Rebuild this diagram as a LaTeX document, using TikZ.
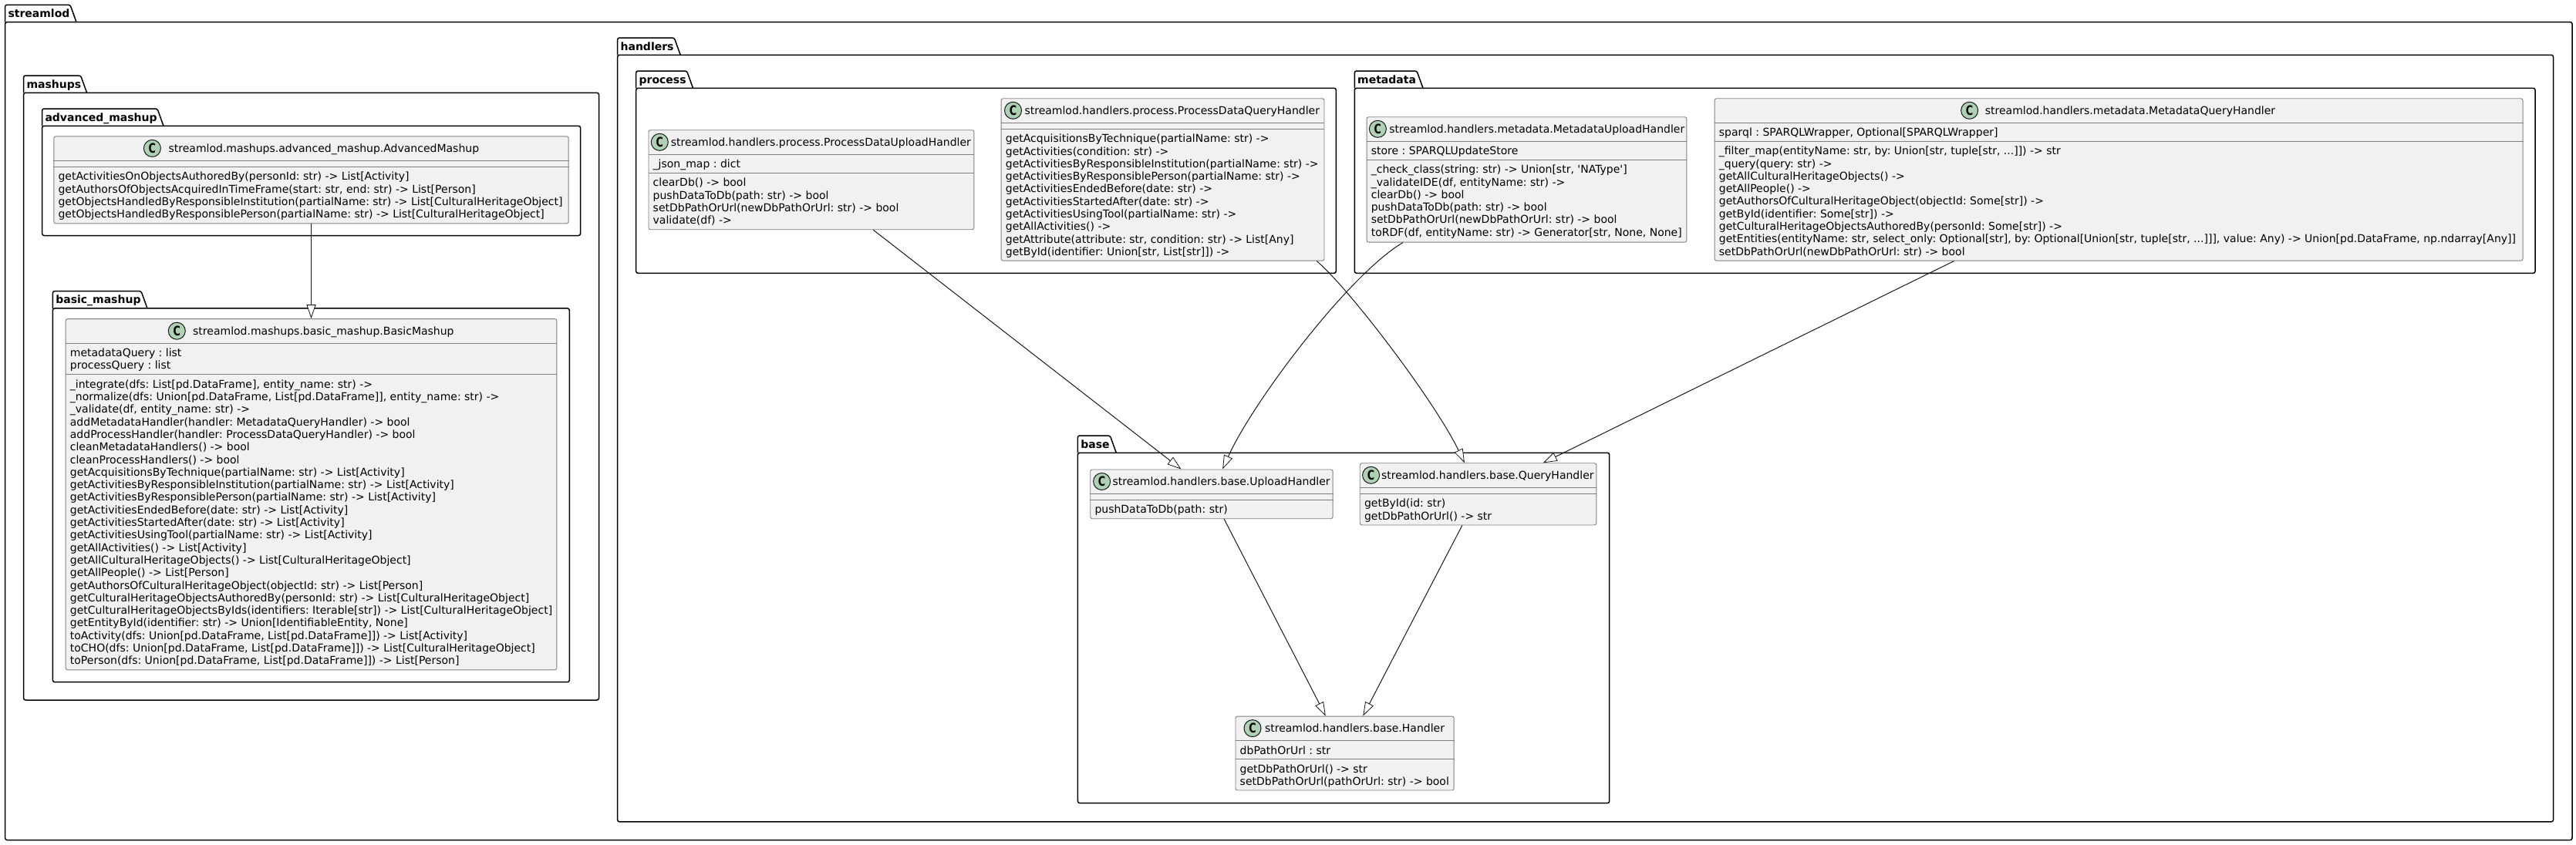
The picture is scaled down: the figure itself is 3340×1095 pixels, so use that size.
\documentclass[tikz,border=0pt]{standalone}
\usepackage{fontspec}
\setmainfont{DejaVu Sans}[Ligatures=TeXOff]
\usetikzlibrary{positioning}
\usetikzlibrary{arrows.meta}

\definecolor{umlline}{HTML}{181818}
\definecolor{boxline}{HTML}{808080}
\definecolor{classfill}{HTML}{F1F1F1}
\definecolor{markfill}{HTML}{ADD1B2}

\tikzset{
	pkgline/.style={draw=black, line width=1.5pt, line join=round},
	pkgtitle/.style={anchor=base west, inner sep=0pt, font=\fontsize{14pt}{16.3pt}\selectfont\bfseries},
	classbox/.style={anchor=north west, draw=boxline, fill=classfill, line width=0.9pt, rounded corners=2.5pt, inner sep=0pt},
	classsep/.style={draw=boxline, line width=0.9pt},
	classmark/.style={circle, draw=umlline, fill=markfill, line width=1pt, minimum size=22pt, inner sep=0pt, font=\fontsize{17pt}{17pt}\selectfont\bfseries},
	classtitle/.style={anchor=base west, inner sep=0pt, font=\fontsize{14pt}{16.3pt}\selectfont},
	classtext/.style={anchor=north west, inner sep=0pt, align=left, font=\fontsize{14pt}{16.3pt}\selectfont},
	extends/.style={draw=umlline, line width=1pt, -{Triangle[fill=white, length=18pt, width=12pt, line width=0.8pt]}}
}

\newcommand{\markletter}{\scalebox{0.75}[1]{C}}

% name, label, left, tab top, tab right, right, bottom
\newcommand{\umlpackage}[7]{
	\draw[pkgline, rounded corners=2.5pt] (#3,{#4+22.3}) -- (#3,#4) -- (#5,#4) -- ({#5+8},{#4+22.3});
	\draw[pkgline, rounded corners=2.5pt] (#3,{#4+22.3}) -- (#6,{#4+22.3}) -- (#6,#7) -- (#3,#7) -- cycle;
	\node[pkgtitle] (#1) at ({#3+3.7},{#4+16}) {#2};
}

\begin{document}
\frenchspacing
\begin{tikzpicture}[x=1pt, y=-1pt]
	\useasboundingbox (0,0) rectangle (3340,1095);

	\umlpackage{streamlodlabel}{streamlod}{6.6}{6.3}{91}{3335}{1089.5}
	\umlpackage{mashupslabel}{mashups}{30.6}{98}{104.6}{776.5}{908}
	\umlpackage{advancedlabel}{advanced\_mashup}{54.6}{141}{204}{752.6}{305.5}
	\umlpackage{basiclabel}{basic\_mashup}{68.4}{377.6}{183}{738.3}{884.7}
	\umlpackage{handlerslabel}{handlers}{800.7}{49}{874.2}{3310.6}{1065.8}
	\umlpackage{processlabel}{process}{824.7}{92}{890.5}{1732.3}{354.3}
	\umlpackage{metadatalabel}{metadata}{1756.3}{92}{1837}{3287}{354.3}
	\umlpackage{baselabel}{base}{1397.4}{565}{1439.3}{2086.7}{1041.6}

	% mashups
	\node[classbox, minimum width=667.3pt, minimum height=113pt] (advanced) at (69.4,176.4) {};
	\node[classmark] (advancedmark) at (197.4,192.4) {\markletter};
	\node[classtitle] (advancedtitle) at (218.4,197.6) {streamlod.mashups.advanced\_mashup.AdvancedMashup};
	\draw[classsep] ([yshift=-32pt]advanced.north west) -- ([yshift=-32pt]advanced.north east);
	\draw[classsep] ([yshift=-40pt]advanced.north west) -- ([yshift=-40pt]advanced.north east);
	\node[classtext] (advancedmethods) at ([xshift=6pt, yshift=-45.8pt]advanced.north west) {\strut getActivitiesOnObjectsAuthoredBy(personId: str) -> List[Activity]\\
		getAuthorsOfObjectsAcquiredInTimeFrame(start: str, end: str) -> List[Person]\\
		getObjectsHandledByResponsibleInstitution(partialName: str) -> List[CulturalHeritageObject]\\
		getObjectsHandledByResponsiblePerson(partialName: str) -> List[CulturalHeritageObject]};

	\node[classbox, minimum width=636.7pt, minimum height=455.2pt] (basic) at (84.7,413.2) {};
	\node[classmark] (basicmark) at (229.3,429.2) {\markletter};
	\node[classtitle] (basictitle) at (250,434.4) {streamlod.mashups.basic\_mashup.BasicMashup};
	\draw[classsep] ([yshift=-32pt]basic.north west) -- ([yshift=-32pt]basic.north east);
	\draw[classsep] ([yshift=-72.6pt]basic.north west) -- ([yshift=-72.6pt]basic.north east);
	\node[classtext] (basicfields) at ([xshift=6pt, yshift=-37.8pt]basic.north west) {\strut metadataQuery : list\\
		processQuery : list};
	\node[classtext] (basicmethods) at ([xshift=6pt, yshift=-78.4pt]basic.north west) {\strut \_integrate(dfs: List[pd.DataFrame], entity\_name: str) ->\\
		\_normalize(dfs: Union[pd.DataFrame, List[pd.DataFrame]], entity\_name: str) ->\\
		\_validate(df, entity\_name: str) ->\\
		addMetadataHandler(handler: MetadataQueryHandler) -> bool\\
		addProcessHandler(handler: ProcessDataQueryHandler) -> bool\\
		cleanMetadataHandlers() -> bool\\
		cleanProcessHandlers() -> bool\\
		getAcquisitionsByTechnique(partialName: str) -> List[Activity]\\
		getActivitiesByResponsibleInstitution(partialName: str) -> List[Activity]\\
		getActivitiesByResponsiblePerson(partialName: str) -> List[Activity]\\
		getActivitiesEndedBefore(date: str) -> List[Activity]\\
		getActivitiesStartedAfter(date: str) -> List[Activity]\\
		getActivitiesUsingTool(partialName: str) -> List[Activity]\\
		getAllActivities() -> List[Activity]\\
		getAllCulturalHeritageObjects() -> List[CulturalHeritageObject]\\
		getAllPeople() -> List[Person]\\
		getAuthorsOfCulturalHeritageObject(objectId: str) -> List[Person]\\
		getCulturalHeritageObjectsAuthoredBy(personId: str) -> List[CulturalHeritageObject]\\
		getCulturalHeritageObjectsByIds(identifiers: Iterable[str]) -> List[CulturalHeritageObject]\\
		getEntityById(identifier: str) -> Union[IdentifiableEntity, None]\\
		toActivity(dfs: Union[pd.DataFrame, List[pd.DataFrame]]) -> List[Activity]\\
		toCHO(dfs: Union[pd.DataFrame, List[pd.DataFrame]]) -> List[CulturalHeritageObject]\\
		toPerson(dfs: Union[pd.DataFrame, List[pd.DataFrame]]) -> List[Person]};

	% handlers.process
	\node[classbox, minimum width=421.9pt, minimum height=129pt] (processupload) at (840.5,168.3) {};
	\node[classmark] (processuploadmark) at (855.3,184.3) {\markletter};
	\node[classtitle] (processuploadtitle) at (869.6,189.5) {streamlod.handlers.process.ProcessDataUploadHandler};
	\draw[classsep] ([yshift=-32pt]processupload.north west) -- ([yshift=-32pt]processupload.north east);
	\draw[classsep] ([yshift=-56pt]processupload.north west) -- ([yshift=-56pt]processupload.north east);
	\node[classtext] (processuploadfields) at ([xshift=6pt, yshift=-37.8pt]processupload.north west) {\strut \_json\_map : dict};
	\node[classtext] (processuploadmethods) at ([xshift=6pt, yshift=-61.8pt]processupload.north west) {\strut clearDb() -> bool\\
		pushDataToDb(path: str) -> bool\\
		setDbPathOrUrl(newDbPathOrUrl: str) -> bool\\
		validate(df) ->};

	\node[classbox, minimum width=418.8pt, minimum height=210.4pt] (processquery) at (1297.7,127.3) {};
	\node[classmark] (processquerymark) at (1313.5,143.3) {\markletter};
	\node[classtitle] (processquerytitle) at (1328.3,148.5) {streamlod.handlers.process.ProcessDataQueryHandler};
	\draw[classsep] ([yshift=-32pt]processquery.north west) -- ([yshift=-32pt]processquery.north east);
	\draw[classsep] ([yshift=-40pt]processquery.north west) -- ([yshift=-40pt]processquery.north east);
	\node[classtext] (processquerymethods) at ([xshift=6pt, yshift=-45.8pt]processquery.north west) {\strut getAcquisitionsByTechnique(partialName: str) ->\\
		getActivities(condition: str) ->\\
		getActivitiesByResponsibleInstitution(partialName: str) ->\\
		getActivitiesByResponsiblePerson(partialName: str) ->\\
		getActivitiesEndedBefore(date: str) ->\\
		getActivitiesStartedAfter(date: str) ->\\
		getActivitiesUsingTool(partialName: str) ->\\
		getAllActivities() ->\\
		getAttribute(attribute: str, condition: str) -> List[Any]\\
		getById(identifier: Union[str, List[str]]) ->};

	% handlers.metadata
	\node[classbox, minimum width=414.8pt, minimum height=162.4pt] (metadataupload) at (1771.6,151.3) {};
	\node[classmark] (metadatauploadmark) at (1786.4,167.3) {\markletter};
	\node[classtitle] (metadatauploadtitle) at (1801.2,172.5) {streamlod.handlers.metadata.MetadataUploadHandler};
	\draw[classsep] ([yshift=-32pt]metadataupload.north west) -- ([yshift=-32pt]metadataupload.north east);
	\draw[classsep] ([yshift=-56pt]metadataupload.north west) -- ([yshift=-56pt]metadataupload.north east);
	\node[classtext] (metadatauploadfields) at ([xshift=6pt, yshift=-37.8pt]metadataupload.north west) {\strut store : SPARQLUpdateStore};
	\node[classtext] (metadatauploadmethods) at ([xshift=6pt, yshift=-61.8pt]metadataupload.north west) {\strut \_check\_class(string: str) -> Union[str, 'NAType']\\
		\_validateIDE(df, entityName: str) ->\\
		clearDb() -> bool\\
		pushDataToDb(path: str) -> bool\\
		setDbPathOrUrl(newDbPathOrUrl: str) -> bool\\
		toRDF(df, entityName: str) -> Generator[str, None, None]};

	\node[classbox, minimum width=1047.9pt, minimum height=210.4pt] (metadataquery) at (2222.7,127.3) {};
	\node[classmark] (metadataquerymark) at (2553.6,143.3) {\markletter};
	\node[classtitle] (metadataquerytitle) at (2573.6,148.5) {streamlod.handlers.metadata.MetadataQueryHandler};
	\draw[classsep] ([yshift=-32pt]metadataquery.north west) -- ([yshift=-32pt]metadataquery.north east);
	\draw[classsep] ([yshift=-56pt]metadataquery.north west) -- ([yshift=-56pt]metadataquery.north east);
	\node[classtext] (metadataqueryfields) at ([xshift=6pt, yshift=-37.8pt]metadataquery.north west) {\strut sparql : SPARQLWrapper, Optional[SPARQLWrapper]};
	\node[classtext] (metadataquerymethods) at ([xshift=6pt, yshift=-61.8pt]metadataquery.north west) {\strut \_filter\_map(entityName: str, by: Union[str, tuple[str, ...]]) -> str\\
		\_query(query: str) ->\\
		getAllCulturalHeritageObjects() ->\\
		getAllPeople() ->\\
		getAuthorsOfCulturalHeritageObject(objectId: Some[str]) ->\\
		getById(identifier: Some[str]) ->\\
		getCulturalHeritageObjectsAuthoredBy(personId: Some[str]) ->\\
		getEntities(entityName: str, select\_only: Optional[str], by: Optional[Union[str, tuple[str, ...]]], value: Any) -> Union[pd.DataFrame, np.ndarray[Any]]\\
		setDbPathOrUrl(newDbPathOrUrl: str) -> bool};

	% handlers.base
	\node[classbox, minimum width=314.3pt, minimum height=63.8pt] (upload) at (1413.3,608.5) {};
	\node[classmark] (uploadmark) at (1428.6,624.5) {\markletter};
	\node[classtitle] (uploadtitle) at (1442.3,629.7) {streamlod.handlers.base.UploadHandler};
	\draw[classsep] ([yshift=-32pt]upload.north west) -- ([yshift=-32pt]upload.north east);
	\draw[classsep] ([yshift=-40pt]upload.north west) -- ([yshift=-40pt]upload.north east);
	\node[classtext] (uploadmethods) at ([xshift=6pt, yshift=-45.8pt]upload.north west) {\strut pushDataToDb(path: str)};

	\node[classbox, minimum width=306.6pt, minimum height=80.2pt] (query) at (1762.8,600.3) {};
	\node[classmark] (querymark) at (1777.6,616.3) {\markletter};
	\node[classtitle] (querytitle) at (1790.8,621.5) {streamlod.handlers.base.QueryHandler};
	\draw[classsep] ([yshift=-32pt]query.north west) -- ([yshift=-32pt]query.north east);
	\draw[classsep] ([yshift=-40pt]query.north west) -- ([yshift=-40pt]query.north east);
	\node[classtext] (querymethods) at ([xshift=6pt, yshift=-45.8pt]query.north west) {\strut getById(id: str)\\
		getDbPathOrUrl() -> str};

	\node[classbox, minimum width=283.2pt, minimum height=95.9pt] (handler) at (1601.5,928.6) {};
	\node[classmark] (handlermark) at (1624,944.6) {\markletter};
	\node[classtitle] (handlertitle) at (1639.8,949.8) {streamlod.handlers.base.Handler};
	\draw[classsep] ([yshift=-32pt]handler.north west) -- ([yshift=-32pt]handler.north east);
	\draw[classsep] ([yshift=-56pt]handler.north west) -- ([yshift=-56pt]handler.north east);
	\node[classtext] (handlerfields) at ([xshift=6pt, yshift=-37.8pt]handler.north west) {\strut dbPathOrUrl : str};
	\node[classtext] (handlermethods) at ([xshift=6pt, yshift=-61.8pt]handler.north west) {\strut getDbPathOrUrl() -> str\\
		setDbPathOrUrl(pathOrUrl: str) -> bool};

	% inheritance
	\draw[extends] (advanced.south) to (basic.north);
	\draw[extends] ([xshift=80.35pt]processupload.south) to ([xshift=-39.45pt]upload.north);
	\draw[extends] ([xshift=199.7pt]processquery.south) .. controls (1750,375) and (1860,520) .. ([xshift=-17.6pt]query.north);
	\draw[extends] ([xshift=-160.4pt]metadataupload.south) .. controls (1750,355) and (1625,520) .. ([xshift=14.25pt]upload.north);
	\draw[extends] ([xshift=-213.65pt]metadataquery.south) to ([xshift=84.3pt]query.north);
	\draw[extends] ([xshift=16.25pt]upload.south) to ([xshift=-24.7pt]handler.north);
	\draw[extends] ([xshift=-20.7pt]query.south) to ([xshift=23.7pt]handler.north);
\end{tikzpicture}
\end{document}
